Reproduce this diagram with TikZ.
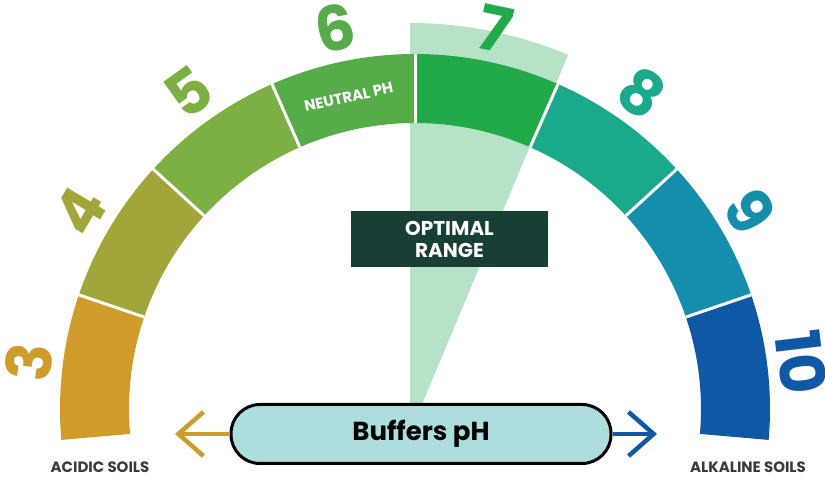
\documentclass[tikz,border=0pt]{standalone}
\usepackage{fontspec}
\setmainfont{Poppins}
\usetikzlibrary{arrows.meta,calc}
\definecolor{phA}{HTML}{CF9B2A}
\definecolor{phB}{HTML}{A0A63A}
\definecolor{phC}{HTML}{7DB043}
\definecolor{phD}{HTML}{55AC48}
\definecolor{phE}{HTML}{22AA4A}
\definecolor{phF}{HTML}{1BA98C}
\definecolor{phG}{HTML}{158EAB}
\definecolor{phH}{HTML}{0E58A6}
\definecolor{optfill}{HTML}{B6E2C8}
\definecolor{boxgreen}{HTML}{173F36}
\definecolor{pillfill}{HTML}{ADDDDD}
\definecolor{soilgray}{HTML}{3A3A3A}

\begin{document}
\begin{tikzpicture}[x=1pt,y=1pt,
  phnum/.style={font=\fontsize{62}{62}\selectfont\bfseries},
  soil/.style={text=soilgray,font=\fontsize{15}{15}\selectfont\bfseries},
  sidearrow/.style={line width=4.5pt,-{Straight Barb[length=25pt,width=44pt]}}]
\useasboundingbox (0,0) rectangle (825,478);
\coordinate (c) at (415,69);
\coordinate (apex) at (410,45);
\fill[optfill] (apex) -- ++(67.3:410) arc[start angle=67.3,end angle=90,radius=410] -- cycle;
\foreach \i/\col/\lab in {0/phA/3,1/phB/4,2/phC/5,3/phD/6,4/phE/7,5/phF/8,6/phG/9,7/phH/10}{
  \pgfmathsetmacro{\a}{185-23.75*\i}
  \pgfmathsetmacro{\b}{\a-23.75}
  \pgfmathsetmacro{\m}{\a-11.875}
  \fill[\col] ($(c)+(\a:355)$) arc[start angle=\a,end angle=\b,radius=355]
    -- ($(c)+(\b:286)$) arc[start angle=\b,end angle=\a,radius=286] -- cycle;
  \node[phnum,text=\col,rotate=\m-90] (num\lab) at ($(c)+(\m:389)$) {\lab};
}
\foreach \a in {161.25,137.5,113.75,90,66.25,42.5,18.75}
  \draw[white,line width=3pt] ($(c)+(\a:286)$) -- ($(c)+(\a:355)$);
\node[text=white,font=\fontsize{15}{15}\selectfont\bfseries,rotate=12] (neutral) at ($(c)+(102:319)$) {NEUTRAL PH};
\node[fill=boxgreen,text=white,minimum width=197,minimum height=56,align=center,
  font=\fontsize{20}{22}\selectfont\bfseries] (optimal) at (449.5,239) {OPTIMAL\\RANGE};
\node[draw=black,line width=3pt,fill=pillfill,rounded corners=29pt,minimum width=380,
  minimum height=59,font=\fontsize{26}{26}\selectfont\bfseries] (buffer) at (421,44) {Buffers pH};
\coordinate (acidtip) at (175,44);
\coordinate (alktip) at (657,44);
\draw[sidearrow,phA] (buffer.west) -- (acidtip);
\draw[sidearrow,phH] (buffer.east) -- (alktip);
\node[soil] (acidic) at (100,11) {ACIDIC SOILS};
\node[soil] (alkaline) at (748,11) {ALKALINE SOILS};
\end{tikzpicture}
\end{document}
